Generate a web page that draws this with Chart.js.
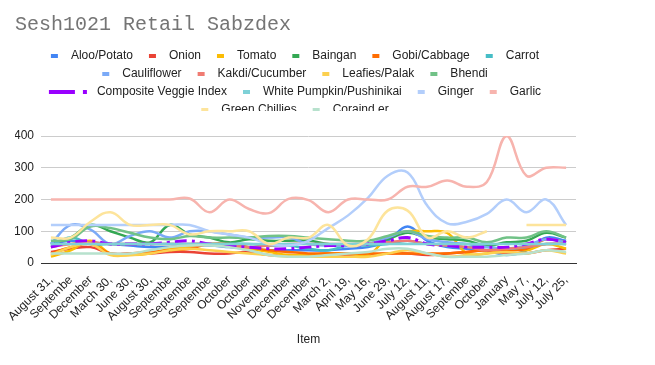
<!DOCTYPE html>
<html>
<head>
<meta charset="utf-8">
<script src="https://cdn.jsdelivr.net/npm/chart.js@4.4.1/dist/chart.umd.min.js"></script>
<style>
  body { margin: 0; background: #fff; }
  #wrap { width: 655px; height: 365px; }
</style>
</head>
<body>
<div id="wrap"><canvas id="veggieChart"></canvas></div>
<script>
const dateLabels = ['August 31,', 'Septembe', 'December', 'March 30,', 'June 30,', 'August 30,', 'Septembe', 'Septembe', 'Septembe',
    'October', 'October', 'November', 'December', 'December', 'March 2,', 'April 19,', 'May 16,', 'June 29,',
    'July 12,', 'August 11,', 'August 17,', 'Septembe', 'October', 'January', 'May 7,', 'July 12,', 'July 25,'];

const seriesNames = ['Aloo/Potato', 'Onion', 'Tomato', 'Baingan', 'Gobi/Cabbage', 'Carrot', 'Cauliflower', 'Kakdi/Cucumber',
    'Leafies/Palak', 'Bhendi', 'Composite Veggie Index', 'White Pumpkin/Pushinikai', 'Ginger', 'Garlic', 'Green Chillies', 'Coraind er'];

const aloo        = [60, 70, 65, 60, 55, 50, 50, 55, 55, 50, 45, 40, 40, 40, 40, 45, 50, 70, 115, 70, 50, 45, 40, 25, 40, 80, 70];
const onion       = [35, 45, 50, 30, 30, 30, 35, 35, 30, 30, 35, 25, 25, 25, 30, 25, 25, 30, 30, 25, 30, 35, 40, 30, 30, 40, 45];
const tomato      = [20, 40, 70, 30, 25, 30, 45, 50, 60, 55, 45, 35, 25, 25, 30, 30, 25, 80, 100, 100, 95, 30, 30, 45, 40, 60, 45];
const baingan     = [60, 80, 120, 100, 80, 65, 120, 90, 80, 65, 75, 70, 70, 70, 60, 55, 60, 75, 95, 80, 75, 70, 55, 65, 70, 95, 80];
const gobi        = [30, 50, 60, 30, 30, 35, 40, 45, 60, 60, 50, 40, 35, 30, 30, 30, 30, 30, 30, 30, 30, 35, 40, 40, 45, 75, 65];
const carrot      = [55, 80, 60, 60, 60, 60, 60, 60, 60, 60, 60, 55, 55, 45, 40, 55, 55, 60, 70, 60, 55, 50, 50, 45, 50, 60, 60];
const cauliflower = [60, 120, 105, 60, 85, 100, 80, 100, 100, 90, 80, 80, 80, 60, 55, 55, 60, 80, 100, 75, 65, 60, 50, 45, 55, 75, 65];
const kakdi       = [50, 60, 65, 60, 60, 60, 60, 60, 60, 55, 50, 55, 60, 60, 60, 60, 60, 65, 70, 60, 55, 50, 40, 45, 50, 60, 60];
const leafies     = [25, 50, 60, 25, 25, 30, 40, 45, 40, 35, 30, 25, 20, 20, 20, 20, 20, 30, 40, 30, 20, 25, 30, 35, 30, 40, 30];
const bhendi      = [70, 75, 115, 110, 95, 80, 75, 85, 80, 80, 80, 85, 85, 80, 75, 70, 70, 85, 100, 85, 80, 80, 65, 80, 80, 100, 80];
const composite   = [50, 65, 70, 60, 60, 60, 65, 70, 60, 55, 50, 45, 45, 50, 55, 55, 60, 70, 80, 60, 55, 50, 50, 50, 60, 75, 65];
const pumpkin     = [60, 60, 60, 60, 60, 60, 60, 60, 60, 60, 60, 60, 60, 60, 60, 60, 60, 60, 60, 60, 60, 60, 60, 60, 60, 60, 60];
const ginger      = [120, 120, 120, 120, 120, 120, 120, 120, 100, 90, 80, 60, 55, 70, 110, 150, 205, 275, 285, 180, 125, 130, 155, 200, 160, 200, 120];
const garlic      = [200, 200, 200, 200, 200, 200, 200, 203, 160, 200, 170, 157, 202, 198, 160, 200, 200, 200, 240, 240, 260, 240, 255, 400, 275, 300, 300];
const chillies    = [80, 80, 130, 160, 120, 120, 120, 90, 100, 100, 100, 60, 80, 80, 120, 55, 75, 165, 165, 80, 100, 80, 100, null, 120, 120, 120];
const coraind     = [30, 30, 30, 30, 30, 40, 50, 55, 55, 50, 40, 25, 20, 20, 25, 30, 35, 45, 45, 30, 20, 20, 20, 25, 30, 40, 35];

const allSeries = [aloo, onion, tomato, baingan, gobi, carrot, cauliflower, kakdi, leafies, bhendi,
    composite, pumpkin, ginger, garlic, chillies, coraind];

const seriesColors = ['#4285F4', '#EA4335', '#FBBC04', '#34A853', '#FF6D01', '#46BDC6', '#7BAAF7', '#F07B72',
    '#FCD04F', '#71C287', '#9900FF', '#7ED1D7', '#B3CEFB', '#F7B4AE', '#FDE49B', '#B7E1CD'];

const datasets = allSeries.map((vals, i) => ({
    label: seriesNames[i],
    data: vals,
    borderColor: seriesColors[i],
    backgroundColor: seriesColors[i],
    borderWidth: seriesNames[i] === 'Composite Veggie Index' ? 3 : 2.5,
    borderDash: seriesNames[i] === 'Composite Veggie Index' ? [12, 5, 3, 5] : undefined,
    pointRadius: 0,
    tension: 0.4,
    fill: false,
    order: allSeries.length - i
}));

// google style legend: short marks, rows centred, last row cut off
const topLegend = {
    id: 'topLegend',
    afterDraw(chart) {
        const ctx = chart.ctx;
        ctx.save();
        ctx.beginPath();
        ctx.rect(0, 40, chart.width, 71);
        ctx.clip();
        ctx.font = '12px Arial';
        ctx.textBaseline = 'middle';
        const items = chart.data.datasets.map(ds => {
            const dashed = !!ds.borderDash;
            const mark = dashed ? 38 : 7;
            const gap = dashed ? 10 : 13;
            return { ds, dashed, mark, gap, w: mark + gap + ctx.measureText(ds.label).width };
        });
        const rows = [[]];
        let rowW = 0;
        items.forEach(it => {
            const row = rows[rows.length - 1];
            if (row.length && rowW + 16 + it.w > 540) {
                rows.push([it]);
                rowW = it.w;
            } else {
                rowW += (row.length ? 16 : 0) + it.w;
                row.push(it);
            }
        });
        rows.forEach((row, r) => {
            const total = row.reduce((s, it) => s + it.w, 0) + 16 * (row.length - 1);
            let x = 295 - total / 2;
            const y = 56 + r * 18;
            row.forEach(it => {
                ctx.fillStyle = it.ds.borderColor;
                if (it.dashed) {
                    ctx.fillRect(x, y - 2, 26, 4);
                    ctx.fillRect(x + 34, y - 2, 4, 4);
                } else {
                    ctx.fillRect(x, y - 2, 7, 4);
                }
                ctx.fillStyle = '#222';
                ctx.fillText(it.ds.label, x + it.mark + it.gap, y);
                x += it.w + 16;
            });
        });
        ctx.restore();
    }
};

new Chart(document.getElementById('veggieChart'), {
    type: 'line',
    data: { labels: dateLabels, datasets: datasets },
    plugins: [topLegend],
    options: {
        responsive: true,
        maintainAspectRatio: false,
        animation: false,
        layout: { padding: { left: 15, right: 79, top: 0, bottom: 14 } },
        plugins: {
            legend: { display: false },
            tooltip: { enabled: false },
            title: {
                display: true,
                text: 'Sesh1021 Retail Sabzdex',
                align: 'start',
                color: '#757575',
                font: { family: 'Liberation Mono', size: 20, weight: 'normal' },
                padding: { top: 13, bottom: 99 }
            }
        },
        scales: {
            x: {
                offset: true,
                grid: { display: false },
                border: { display: true, color: '#333', width: 1 },
                ticks: {
                    autoSkip: false,
                    maxRotation: 45,
                    minRotation: 45,
                    padding: 2,
                    color: '#222',
                    font: { family: 'Arial', size: 12 }
                },
                title: {
                    display: true,
                    text: 'Item',
                    color: '#222',
                    font: { family: 'Arial', size: 12 },
                    padding: { top: 4, bottom: 4 }
                },
                afterFit(scale) { scale.height = 88; }
            },
            y: {
                min: 0,
                max: 400,
                grid: {
                    drawTicks: false,
                    color: c => c.tick && c.tick.value === 0 ? '#333' : '#ccc'
                },
                border: { display: false },
                ticks: {
                    stepSize: 100,
                    padding: 7,
                    color: '#222',
                    font: { family: 'Arial', size: 12 }
                },
                afterFit(scale) { scale.width = 26; }
            }
        }
    }
});
</script>
</body>
</html>
